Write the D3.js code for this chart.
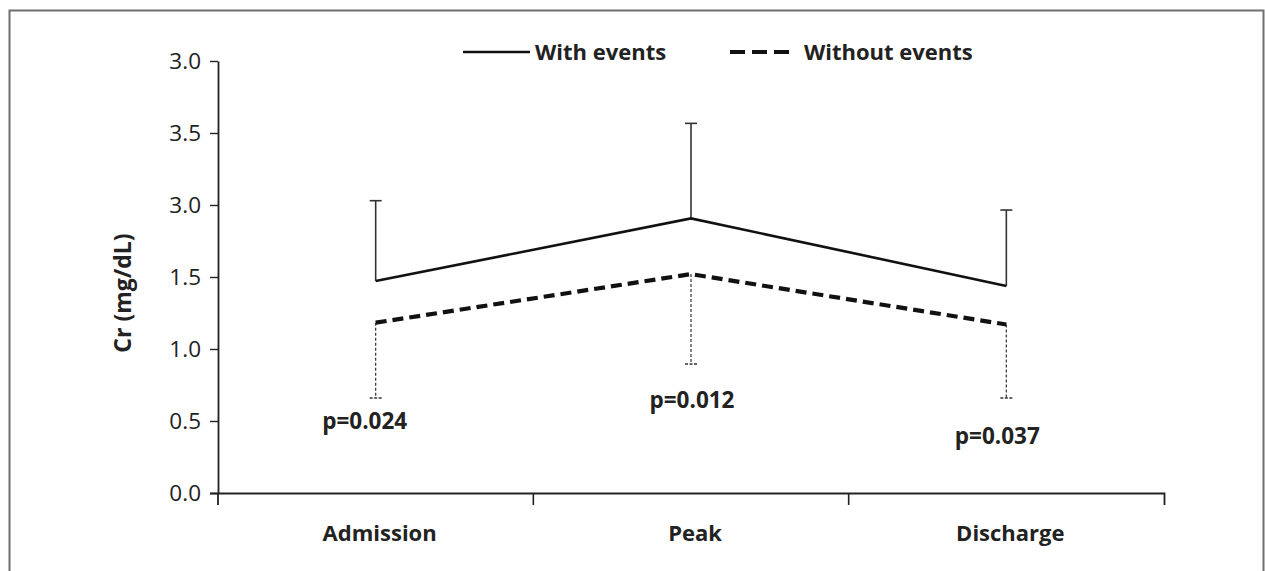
<!DOCTYPE html>
<html><head><meta charset="utf-8">
<script src="https://cdn.jsdelivr.net/npm/d3@7"></script>
<style>body{margin:0;background:#fff}svg{display:block}</style>
</head><body>
<script>
const categories = ["Admission", "Peak", "Discharge"];
const yTickValues = [0, 0.5, 1.0, 1.5, 2.0, 2.5, 3.0];
const yTickLabels = ["0.0", "0.5", "1.0", "1.5", "3.0", "3.5", "3.0"];
const withEvents = [1.472, 1.907, 1.438];
const withEventsUpper = [2.03, 2.567, 1.965];
const withoutEvents = [1.183, 1.52, 1.17];
const withoutEventsLower = [0.66, 0.896, 0.66];
const pLabels = ["p=0.024", "p=0.012", "p=0.037"];
const pLabelPos = [0.49, 0.64, 0.39];
const pLabelDx = [-11, 1, -9];

const W = 1265, H = 571;
const svg = d3.select("body").append("svg").attr("width", W).attr("height", H);
const font = "'Open Sans', 'Noto Sans', sans-serif";

// frame
svg.append("rect").attr("x", 9.5).attr("y", 10.5).attr("width", 1254).attr("height", 580)
  .attr("fill", "none").attr("stroke", "#6e6e6e").attr("stroke-width", 2);

const x = d3.scaleBand().domain(categories).range([218, 1164]).padding(0);
const y = d3.scaleLinear().domain([0, 3]).range([493, 61]);

// y axis
const yAxis = svg.append("g").attr("transform", "translate(218,0)")
  .call(d3.axisLeft(y).tickValues(yTickValues).tickFormat((d, i) => yTickLabels[i]).tickSize(8).tickSizeOuter(0).tickPadding(9));
yAxis.select(".domain").attr("stroke", "#222").attr("stroke-width", 1.8);
yAxis.selectAll(".tick line").attr("stroke", "#222").attr("stroke-width", 1.4);
yAxis.selectAll("text").attr("font-family", font).attr("font-size", 22.5).attr("fill", "#222");

// x axis
const xAxis = svg.append("g").attr("transform", "translate(0,493)")
  .call(d3.axisBottom(x).tickSize(0).tickSizeOuter(0).tickFormat(""));
xAxis.select(".domain").attr("stroke", "#222").attr("stroke-width", 1.8).attr("d", "M210,0.5H1164.5V12");
svg.append("g").selectAll("line").data(categories.slice(1)).join("line")
  .attr("x1", d => x(d)).attr("x2", d => x(d)).attr("y1", 493).attr("y2", 505)
  .attr("stroke", "#222").attr("stroke-width", 1.6);
svg.append("line").attr("x1", 218).attr("x2", 218).attr("y1", 493).attr("y2", 505).attr("stroke", "#222").attr("stroke-width", 1.8);

svg.append("g").selectAll("text").data(categories).join("text")
  .attr("x", d => x(d) + x.bandwidth() / 2 + 4).attr("y", 541)
  .attr("text-anchor", "middle").attr("font-family", font).attr("font-weight", 700)
  .attr("font-size", 22).attr("fill", "#222").text(d => d);

// y title
svg.append("text").attr("transform", "translate(131,293) rotate(-90)")
  .attr("text-anchor", "middle").attr("font-family", font).attr("font-weight", 700)
  .attr("font-size", 23).attr("fill", "#222").text("Cr (mg/dL)");

const cx = d => x(d) + x.bandwidth() / 2;

// error bars - with events (up)
const eb1 = svg.append("g");
categories.forEach((c, i) => {
  eb1.append("line").attr("x1", cx(c)).attr("x2", cx(c)).attr("y1", y(withEvents[i])).attr("y2", y(withEventsUpper[i]))
    .attr("stroke", "#333").attr("stroke-width", 1.6);
  eb1.append("line").attr("x1", cx(c) - 6).attr("x2", cx(c) + 6).attr("y1", y(withEventsUpper[i])).attr("y2", y(withEventsUpper[i]))
    .attr("stroke", "#333").attr("stroke-width", 1.6);
});
// error bars - without events (down, dotted)
const eb2 = svg.append("g");
categories.forEach((c, i) => {
  eb2.append("line").attr("x1", cx(c)).attr("x2", cx(c)).attr("y1", y(withoutEvents[i])).attr("y2", y(withoutEventsLower[i]))
    .attr("stroke", "#333").attr("stroke-width", 1.2).attr("stroke-dasharray", "3,2");
  eb2.append("line").attr("x1", cx(c) - 6).attr("x2", cx(c) + 6).attr("y1", y(withoutEventsLower[i])).attr("y2", y(withoutEventsLower[i]))
    .attr("stroke", "#333").attr("stroke-width", 1.4).attr("stroke-dasharray", "3,1.5");
});

const line = d3.line().x((d, i) => cx(categories[i])).y(d => y(d));
svg.append("path").datum(withEvents).attr("d", line).attr("fill", "none")
  .attr("stroke", "#111").attr("stroke-width", 2.6);
svg.append("path").datum(withoutEvents).attr("d", line).attr("fill", "none")
  .attr("stroke", "#111").attr("stroke-width", 4.2).attr("stroke-dasharray", "11,6");

// p labels
svg.append("g").selectAll("text").data(pLabels).join("text")
  .attr("x", (d, i) => cx(categories[i]) + pLabelDx[i]).attr("y", (d, i) => y(pLabelPos[i]) + 7)
  .attr("text-anchor", "middle").attr("font-family", font).attr("font-weight", 700)
  .attr("font-size", 22.5).attr("fill", "#222").text(d => d);

// legend
const lg = svg.append("g");
lg.append("line").attr("x1", 463).attr("x2", 530).attr("y1", 52).attr("y2", 52).attr("stroke", "#111").attr("stroke-width", 2.6);
lg.append("text").attr("x", 535).attr("y", 60).attr("font-family", font).attr("font-weight", 700)
  .attr("font-size", 22).attr("fill", "#222").text("With events");
lg.append("line").attr("x1", 730).attr("x2", 792).attr("y1", 52).attr("y2", 52).attr("stroke", "#111").attr("stroke-width", 4.2).attr("stroke-dasharray", "15,7");
lg.append("text").attr("x", 804).attr("y", 60).attr("font-family", font).attr("font-weight", 700)
  .attr("font-size", 22).attr("fill", "#222").text("Without events");
</script>
</body></html>
